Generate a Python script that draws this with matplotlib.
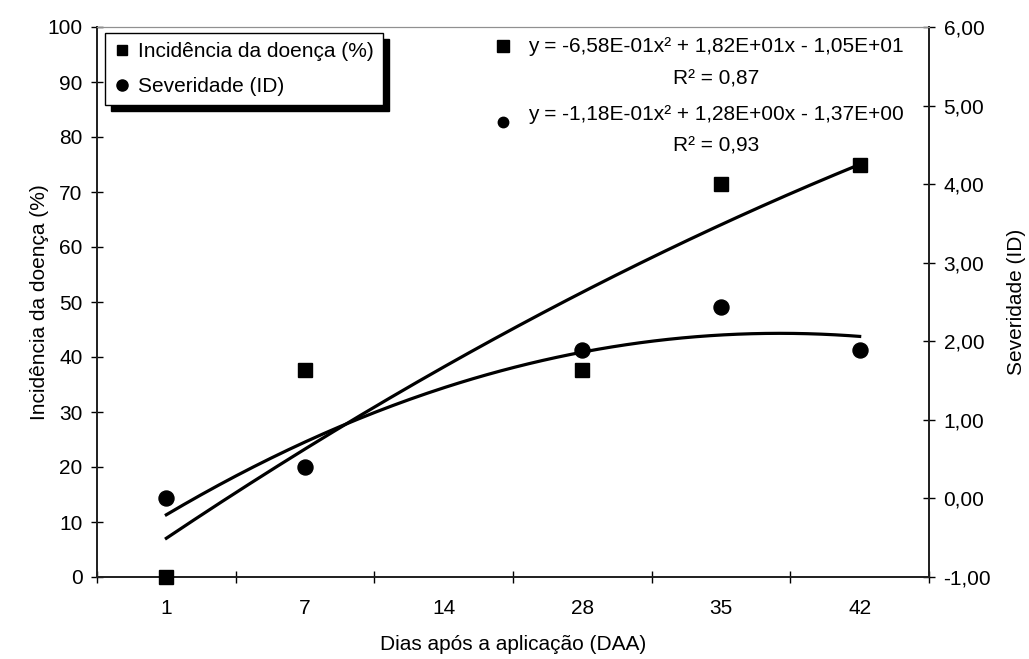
import numpy as np
import matplotlib
matplotlib.use('Agg')
import matplotlib.pyplot as plt
from matplotlib.lines import Line2D

# Data
dias = ['1', '7', '14', '28', '35', '42']
pos_incidencia = [1, 2, 4, 5, 6]
incidencia = [0.0, 37.6, 37.7, 71.5, 75.0]
pos_severidade = [1, 2, 4, 5, 6]
severidade = [0.0, 0.40, 1.89, 2.44, 1.89]

# Trendline coefficients as printed on the chart (x = category index)
coef_incidencia = [-0.658, 18.2, -10.5]
coef_severidade = [-0.118, 1.28, -1.37]
eq_incidencia = 'y = -6,58E-01x² + 1,82E+01x - 1,05E+01'
eq_severidade = 'y = -1,18E-01x² + 1,28E+00x - 1,37E+00'
r2_incidencia = 'R² = 0,87'
r2_severidade = 'R² = 0,93'

plt.rcParams['font.family'] = ['Liberation Sans', 'DejaVu Sans']
FS = 15

W, H = 1029, 659
fig = plt.figure(figsize=(W / 100, H / 100), dpi=100)
L, R, T, B = 97, 929, 27, 577
ax = fig.add_axes([L / W, 1 - B / H, (R - L) / W, (B - T) / H])
ax2 = ax.twinx()

# trendlines
xs = np.linspace(1, 6, 200)
ax.plot(xs, np.polyval(coef_incidencia, xs), color='black', lw=2.3, zorder=3)
ax2.plot(xs, np.polyval(coef_severidade, xs), color='black', lw=2.3, zorder=3)

# points
ax.plot(pos_incidencia, incidencia, 's', color='black', ms=10.5, zorder=4, clip_on=False)
ax2.plot(pos_severidade, severidade, 'o', color='black', ms=10.8, zorder=4, clip_on=False)

ax.set_xlim(0.5, 6.5)
ax.set_ylim(0, 100)
ax2.set_ylim(-1, 6)

ax.set_yticks(np.arange(0, 101, 10))
ax2.set_yticks(np.arange(-1, 7, 1))
ax2.set_yticklabels([f'{v:.2f}'.replace('.', ',') for v in np.arange(-1, 7, 1)])

ax.set_xticks(range(1, 7))
ax.set_xticklabels(dias)
ax.set_xticks(np.arange(0.5, 6.6, 1), minor=True)
ax.tick_params(axis='x', which='major', length=0, pad=16, labelsize=FS)
ax.tick_params(axis='x', which='minor', length=9, width=1, direction='inout')
ax.tick_params(axis='y', length=9, width=1, direction='inout', pad=6, labelsize=FS)
ax2.tick_params(axis='y', length=9, width=1, direction='inout', pad=6, labelsize=FS)

for a in (ax, ax2):
    a.spines['top'].set_color('#909090')
    for s in ('left', 'right', 'bottom'):
        a.spines[s].set_color('#222222')
        a.spines[s].set_linewidth(1.3)

ax.set_zorder(ax2.get_zorder() + 1)
ax.patch.set_visible(False)

fig.text(40 / W, 1 - 302 / H, 'Incidência da doença (%)', rotation=90,
         ha='center', va='center', fontsize=FS)
fig.text(1016 / W, 1 - 302 / H, 'Severidade (ID)', rotation=90,
         ha='center', va='center', fontsize=FS)
fig.text(513 / W, 1 - 645 / H, 'Dias após a aplicação (DAA)',
         ha='center', va='center', fontsize=FS)

# legend
handles = [Line2D([], [], marker='s', ls='none', color='black', ms=7.5),
           Line2D([], [], marker='o', ls='none', color='black', ms=8)]
leg = ax.legend(handles, ['Incidência da doença (%)', 'Severidade (ID)'],
                loc='upper left', bbox_to_anchor=(0.0096, 0.989), borderaxespad=0,
                fontsize=FS, frameon=True, fancybox=False, handlelength=0.7,
                handletextpad=0.45, labelspacing=0.75, borderpad=0.45,
                shadow={'ox': 4, 'oy': -4, 'color': 'black', 'alpha': 1})
leg.get_frame().set_edgecolor('black')
leg.get_frame().set_linewidth(1.0)
leg.get_frame().set_alpha(1)

# trendline labels
ax.plot([503 / W], [1 - 46 / H], 's', color='black', ms=8.5,
        transform=fig.transFigure, clip_on=False)
ax.plot([503 / W], [1 - 122 / H], 'o', color='black', ms=7.5,
        transform=fig.transFigure, clip_on=False)
fig.text(716 / W, 1 - 46 / H, eq_incidencia, ha='center', va='center', fontsize=FS)
fig.text(716 / W, 1 - 79 / H, r2_incidencia, ha='center', va='center', fontsize=FS)
fig.text(716 / W, 1 - 114 / H, eq_severidade, ha='center', va='center', fontsize=FS)
fig.text(716 / W, 1 - 146 / H, r2_severidade, ha='center', va='center', fontsize=FS)

fig.savefig('out.png', dpi=100)
